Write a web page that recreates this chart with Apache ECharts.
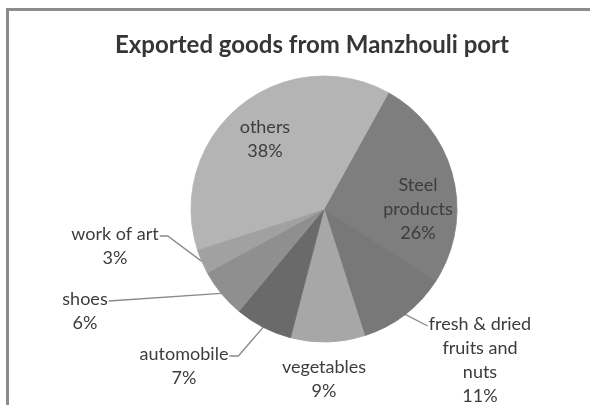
<!DOCTYPE html>
<html>
<head>
<meta charset="utf-8">
<script src="https://cdn.jsdelivr.net/npm/echarts@6/dist/echarts.min.js"></script>
<style>
  html, body { margin: 0; padding: 0; background: #fff; }
  #frame { position: absolute; left: 6px; top: 8px; width: 584px; height: 397px;
           border-top: 3px solid #8c8c8c; border-left: 3px solid #8c8c8c; box-sizing: border-box; }
  #chart { position: absolute; left: 0; top: 0; width: 590px; height: 405px; }
</style>
</head>
<body>
<div id="frame"></div>
<div id="chart"></div>
<script>
// ---- data ----
const categories = ['Steel products', 'fresh & dried fruits and nuts', 'vegetables', 'automobile', 'shoes', 'work of art', 'others'];
const labelTexts = ['Steel\nproducts', 'fresh & dried\nfruits and\nnuts', 'vegetables', 'automobile', 'shoes', 'work of art', 'others'];
const values = [26, 11, 9, 7, 6, 3, 38];
const titleText = 'Exported goods from Manzhouli port';

// ---- styling / layout ----
const sliceColors = ['#7e7e7e', '#787878', '#a7a7a7', '#6a6a6a', '#8f8f8f', '#a1a1a1', '#b4b4b4'];
const pieCenter = [324, 209];
const pieRadius = 133;
// label block centre offsets from pie centre
const labelOffsets = [[94, 0], [156, 151], [0, 170], [-140, 157], [-239, 102], [-209, 37], [-59, -70]];
// leader-line style: 'none', 'right' (line leaves first line's right end), 'left'
const leaderSide = ['none', 'left', 'none', 'right', 'right', 'right', 'none'];
const leaderBend = [0, 0, 0, 9, 0, 8, 0];
const lineH = 24;

const chart = echarts.init(document.getElementById('chart'), null, { renderer: 'canvas' });
const data = categories.map((c, i) => ({
  name: c,
  value: values[i],
  itemStyle: { color: sliceColors[i], borderColor: sliceColors[i], borderWidth: 0.8 },
  label: { formatter: labelTexts[i] + '\n' + values[i] + '%' },
  labelLine: { show: leaderSide[i] !== 'none' }
}));

chart.setOption({
  animation: false,
  title: {
    text: titleText,
    left: 307, top: 28, textAlign: 'center',
    textStyle: { fontFamily: 'Lato', fontWeight: 'bold', fontSize: 24, color: '#363636' }
  },
  series: [{
    type: 'pie',
    center: pieCenter,
    radius: pieRadius,
    startAngle: 61,
    clockwise: true,
    avoidLabelOverlap: false,
    data: data,
    label: {
      show: true,
      position: 'outside',
      fontFamily: 'Lato',
      fontSize: 18,
      lineHeight: lineH,
      color: '#3c3c3c',
      align: 'center'
    },
    labelLine: { show: true, length: 10, length2: 10, lineStyle: { color: '#8a8a8a', width: 1.3 } },
    labelLayout: function (p) {
      const i = p.dataIndex;
      const x = pieCenter[0] + labelOffsets[i][0];
      const y = pieCenter[1] + labelOffsets[i][1];
      const w = p.labelRect.width, h = p.labelRect.height;
      const res = { x: x, y: y, align: 'center', verticalAlign: 'middle' };
      if (leaderSide[i] !== 'none' && p.labelLinePoints) {
        const p0 = p.labelLinePoints[0];
        const firstY = y - h / 2 + lineH / 2 + 2;
        const endX = leaderSide[i] === 'right' ? x + w / 2 + 1 : x - w / 2 - 1;
        const bendX = leaderSide[i] === 'right' ? endX + leaderBend[i] : endX - leaderBend[i];
        res.labelLinePoints = [[p0[0], p0[1]], [bendX, firstY], [endX, firstY]];
      }
      return res;
    }
  }]
});
</script>
</body>
</html>
